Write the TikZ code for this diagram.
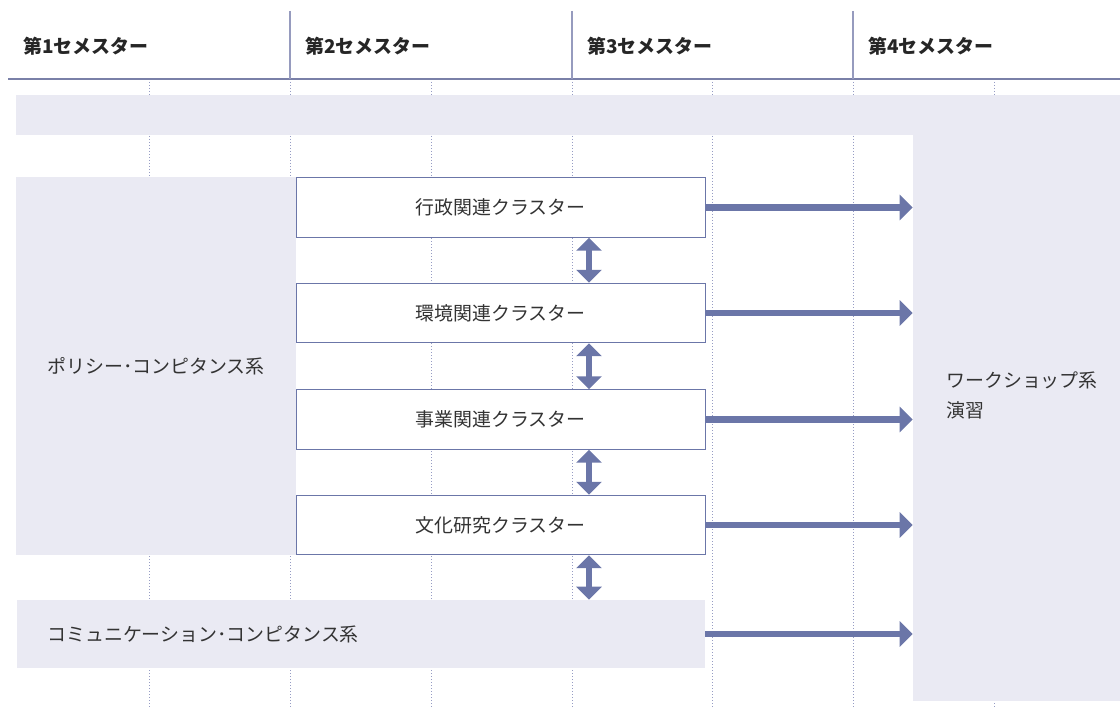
\documentclass[tikz,border=0pt]{standalone}
\usepackage{fontspec}
\setmainfont{Noto Sans CJK JP}
\usetikzlibrary{arrows.meta}
\definecolor{band}{RGB}{234,234,243}
\definecolor{arr}{RGB}{107,118,168}
\definecolor{rulec}{RGB}{122,128,168}
\definecolor{vrulec}{RGB}{150,155,190}
\definecolor{dots}{RGB}{150,156,196}
\definecolor{txt}{RGB}{51,51,51}
\tikzset{
  area/.style={fill=band, draw=none, inner sep=0pt},
  cluster/.style={fill=white, draw=arr, line width=0.75pt, minimum width=306.75pt, minimum height=44.6pt, inner sep=0pt,
    text=txt, font=\fontsize{14.2}{17}\selectfont},
  head/.style={anchor=west, inner sep=0pt, text=black!85, font=\fontsize{14.2}{17}\selectfont\bfseries},
  lbl/.style={anchor=west, inner sep=0pt, text=txt, font=\fontsize{14.2}{22.5}\selectfont, align=left},
  guide/.style={draw=dots, line width=0.6pt, dash pattern=on 0.75pt off 1.5pt},
  bigarrow/.style={draw=arr, line width=4.8pt, -{Triangle[width=18.75pt,length=9.75pt]}},
  dblarrow/.style={draw=arr, line width=4.8pt, {Triangle[width=18.75pt,length=9.75pt]}-{Triangle[width=18.75pt,length=9.75pt]}},
}
\begin{document}
\begin{tikzpicture}[x=0.75pt,y=-0.75pt]
\useasboundingbox (0,0) rectangle (1120,709);
% dotted guides
\foreach \gx in {149,290,431,572,712,853,994}
  \draw[guide] (\gx,79) -- (\gx,709);
% header rules
\draw[rulec, line width=0.9pt] (8,79) -- (1120,79);
\foreach \gx in {290,572,853}
  \draw[vrulec, line width=0.9pt] (\gx,11) -- (\gx,79);
% headers
\node[head] (h1) at (23,46) {第1セメスター};
\node[head] (h2) at (305,46) {第2セメスター};
\node[head] (h3) at (587,46) {第3セメスター};
\node[head] (h4) at (868,46) {第4セメスター};
% gray areas
\node[area, minimum width=828pt, minimum height=30pt] (top) at (568,115) {};
\node[area, minimum width=155.25pt, minimum height=424.5pt] (ws) at (1016.5,418) {};
\node[area, minimum width=210pt, minimum height=283.5pt] (pol) at (156,366) {};
\node[area, minimum width=516pt, minimum height=51pt] (com) at (361,634) {};
% labels on areas
\node[lbl] (poltxt) at (47,366) {ポリシー･コンピタンス系};
\node[lbl] (comtxt) at (47,634) {コミュニケーション･コンピタンス系};
\node[lbl] (wstxt) at (946,395) {ワークショップ系\\演習};
% cluster boxes
\node[cluster] (c1) at (500.5,207.5) {行政関連クラスター};
\node[cluster] (c2) at (500.5,313) {環境関連クラスター};
\node[cluster] (c3) at (500.5,419.5) {事業関連クラスター};
\node[cluster] (c4) at (500.5,525) {文化研究クラスター};
% arrows to workshop
\foreach \n in {c1,c2,c3,c4,com}
  \draw[bigarrow] (\n.east) -- (\n.east -| ws.west);
% double arrows
\coordinate (ax) at (589,0);
\draw[dblarrow] (c1.south -| ax) -- (c2.north -| ax);
\draw[dblarrow] (c2.south -| ax) -- (c3.north -| ax);
\draw[dblarrow] (c3.south -| ax) -- (c4.north -| ax);
\draw[dblarrow] (c4.south -| ax) -- (com.north -| ax);
\end{tikzpicture}
\end{document}
